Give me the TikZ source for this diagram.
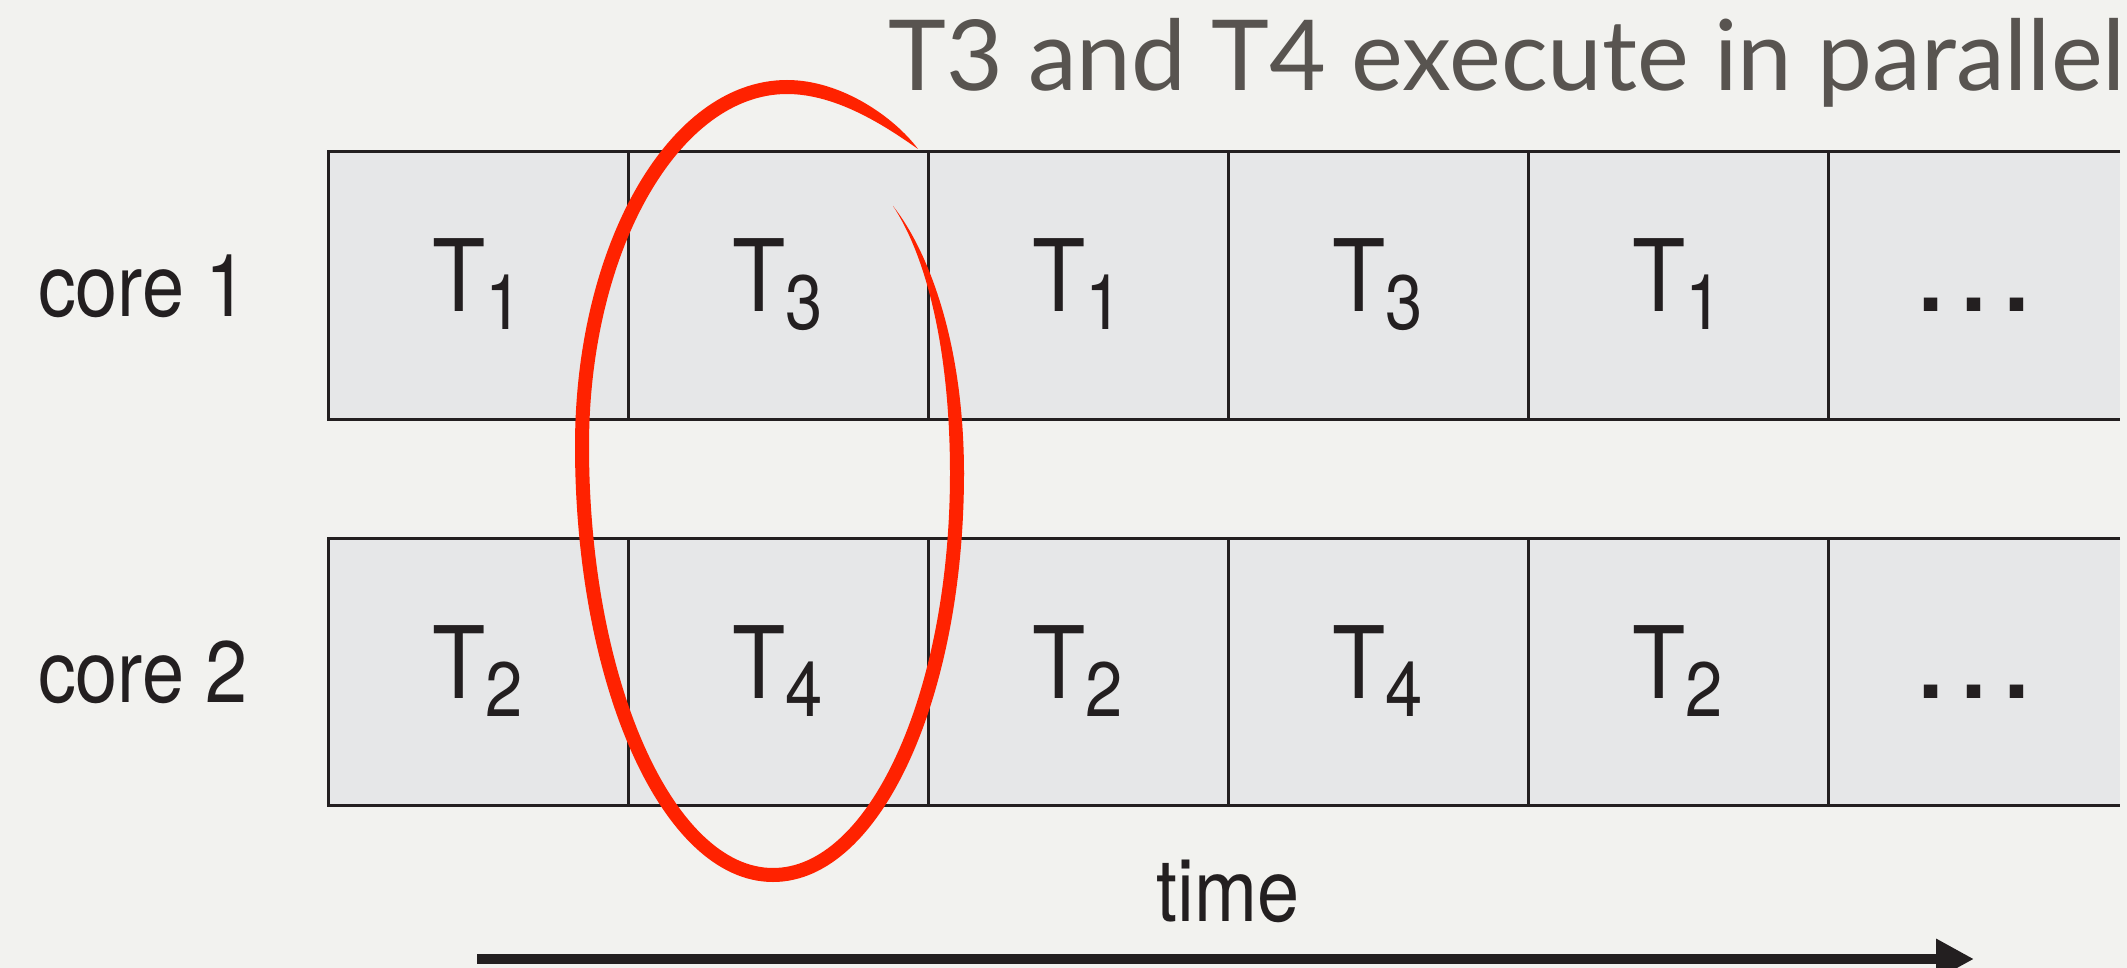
\documentclass[tikz,border=0pt]{standalone}
\usepackage{fontspec}
\usepackage{tikz}
\usetikzlibrary{arrows.meta,positioning,calc}
\newfontfamily\lblfont[FakeStretch=0.87]{TeX Gyre Heros}
\newfontfamily\dotfont{TeX Gyre Heros}
\newfontfamily\headfont{Lato}
\definecolor{paper}{RGB}{242,242,239}
\definecolor{cellgray}{RGB}{230,231,232}
\definecolor{ink}{RGB}{35,31,32}
\definecolor{headgray}{RGB}{88,84,80}
\definecolor{markred}{RGB}{255,34,0}
\newcommand\tsk[1]{{\fontsize{50}{50}\selectfont T}\raisebox{-9pt}{\fontsize{38.5}{38.5}\selectfont #1}}
\newcommand\more{{\dotfont\fontsize{64.5}{64.5}\selectfont …}}

\begin{document}
\begin{tikzpicture}[x=0.5pt,y=-0.5pt]
\tikzset{cell/.style={draw=ink,line width=1.5pt,fill=cellgray,minimum width=150pt,minimum height=133.5pt,inner sep=0pt,outer sep=0pt,font=\lblfont,text=ink,text height=36pt,text depth=9.5pt},
  opencell/.style={cell,draw=none,minimum width=146pt},
  border/.style={draw=ink,line width=1.5pt},
  core/.style={font=\lblfont\fontsize{43.5}{43.5}\selectfont,text=ink,inner sep=0pt,text height=31pt,text depth=0pt},
  head/.style={font=\headfont\fontsize{49}{49}\selectfont,text=headgray,inner sep=0pt},
  timeline/.style={draw=ink,line width=5pt,-{Triangle[length=19pt,width=19pt]}},
  ring/.style={draw=markred,line width=7pt}}
\fill[paper] (0,0) rectangle (2127,968);
\useasboundingbox (0,0) rectangle (2127,968);

% core 1
\node[cell,anchor=north west] (c11) at (328,152) {\tsk{1}};
\node[cell,right=0pt of c11] (c12) {\tsk{3}};
\node[cell,right=0pt of c12] (c13) {\tsk{1}};
\node[cell,right=0pt of c13] (c14) {\tsk{3}};
\node[cell,right=0pt of c14] (c15) {\tsk{1}};
\node[opencell,right=0pt of c15] (c16) {\more};
\draw[border] (c16.north east) -- (c16.north west) -- (c16.south west) -- (c16.south east);
% core 2
\node[cell,anchor=north west] (c21) at (328,538) {\tsk{2}};
\node[cell,right=0pt of c21] (c22) {\tsk{4}};
\node[cell,right=0pt of c22] (c23) {\tsk{2}};
\node[cell,right=0pt of c23] (c24) {\tsk{4}};
\node[cell,right=0pt of c24] (c25) {\tsk{2}};
\node[opencell,right=0pt of c25] (c26) {\more};
\draw[border] (c26.north east) -- (c26.north west) -- (c26.south west) -- (c26.south east);

\node[core,left=40pt of c11] (core1) {core 1};
\node[core,left=40pt of c21] (core2) {core 2};
\node[head,anchor=base east] (head) at (2126,91) {T3 and T4 execute in parallel};

% time axis
\node[core,anchor=base] (time) at ([yshift=-58pt]c23.south east) {time};
\coordinate (tstart) at (477,959);
\coordinate (tend) at (1974,959);
\draw[timeline] (tstart) -- (tend);

% hand drawn ring round T3 and T4
\coordinate (r0) at (893,206);
\coordinate (rr) at (957,473);
\coordinate (rb) at (773,875);
\coordinate (rl) at (582,446);
\coordinate (rt) at (787,87);
\coordinate (r9) at (918,149);
\fill[markred] (r0) .. controls (927,249) and (964,340) .. (964,474)
  -- (950,474) .. controls (950,340) and (923,251) .. (r0) -- cycle;
\draw[ring] (rr) .. controls (957,695) and (875,875) .. (rb)
  .. controls (668,875) and (582,683) .. (rl)
  .. controls (582,248) and (674,87) .. (rt);
\fill[markred] (787,80) .. controls (842,80) and (895,118) .. (r9)
  .. controls (888,128) and (838,94) .. (787,94) -- cycle;
\end{tikzpicture}
\end{document}
